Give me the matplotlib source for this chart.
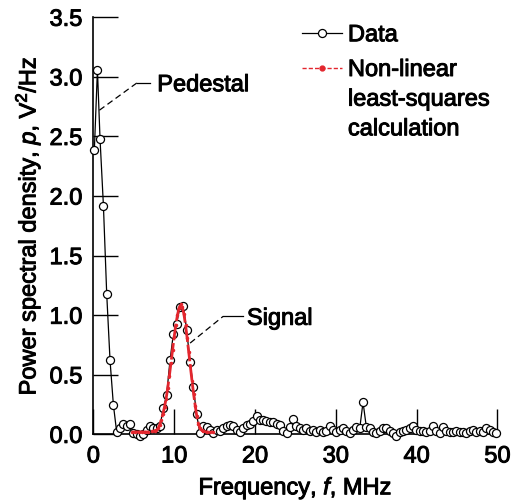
import matplotlib
matplotlib.use("Agg")
import matplotlib.pyplot as plt
import matplotlib.patheffects as pe
import numpy as np

plt.rcParams['font.family'] = ['Liberation Sans', 'DejaVu Sans']
plt.rcParams['mathtext.fontset'] = 'custom'
plt.rcParams['mathtext.rm'] = 'Liberation Sans'
plt.rcParams['mathtext.it'] = 'Liberation Sans:italic'

# measured spectrum
freq = [0.12, 0.50, 0.82, 1.24, 1.65, 2.06, 2.47, 2.88, 3.30, 3.71,
        4.12, 4.53, 4.94, 5.36, 5.77, 6.18, 6.59, 7.00, 7.42, 7.83,
        8.24, 8.65, 9.06, 9.48, 9.89, 10.30, 10.71, 11.12, 11.54, 11.95,
        12.36, 12.77, 13.18, 13.60, 14.01, 14.42, 14.83, 15.24, 15.66, 16.07,
        16.48, 16.89, 17.30, 17.72, 18.13, 18.54, 18.95, 19.36, 19.78, 20.19,
        20.60, 21.01, 21.42, 21.84, 22.25, 22.66, 23.07, 23.48, 23.90, 24.31,
        24.72, 25.13, 25.54, 25.96, 26.37, 26.78, 27.19, 27.60, 28.02, 28.43,
        28.84, 29.25, 29.66, 30.08, 30.49, 30.90, 31.31, 31.72, 32.14, 32.55,
        32.96, 33.37, 33.78, 34.20, 34.61, 35.02, 35.43, 35.84, 36.26, 36.67,
        37.08, 37.49, 37.90, 38.32, 38.73, 39.14, 39.55, 39.96, 40.38, 40.79,
        41.20, 41.61, 42.02, 42.44, 42.85, 43.26, 43.67, 44.08, 44.50, 44.91,
        45.32, 45.73, 46.14, 46.56, 46.97, 47.38, 47.79, 48.20, 48.62, 49.03,
        49.44, 49.85]
psd = [2.39, 3.06, 2.48, 1.92, 1.175, 0.62, 0.25, 0.02, 0.05, 0.09,
       0.07, 0.09, 0.01, 0.00, -0.01, 0.00, 0.04, 0.07, 0.05, 0.05,
       0.07, 0.22, 0.33, 0.62, 0.84, 0.93, 1.07, 1.08, 0.88, 0.61,
       0.40, 0.17, 0.01, 0.07, 0.06, 0.04, 0.01, 0.04, 0.03, 0.05,
       0.07, 0.08, 0.07, 0.04, 0.02, 0.05, 0.08, 0.09, 0.11, 0.15,
       0.12, 0.12, 0.11, 0.10, 0.10, 0.09, 0.08, 0.03, 0.01, 0.06,
       0.13, 0.07, 0.05, 0.04, 0.05, 0.03, 0.04, 0.02, 0.04, 0.02,
       0.03, 0.07, 0.04, 0.02, 0.04, 0.05, 0.03, 0.01, 0.04, 0.06,
       0.05, 0.27, 0.06, 0.05, 0.02, 0.01, 0.03, 0.05, 0.05, 0.03,
       0.01, -0.01, 0.02, 0.03, 0.04, 0.05, 0.07, 0.04, 0.03, 0.03,
       0.02, 0.03, 0.07, 0.03, 0.01, 0.06, 0.03, 0.02, 0.02, 0.03,
       0.02, 0.02, 0.01, 0.03, 0.04, 0.02, 0.03, 0.02, 0.05, 0.04,
       0.02, 0.01]

# least-squares fit of the signal peak
fit_freq = [4.8, 5.2, 5.6, 6.0, 6.4, 6.8, 7.2, 7.6, 7.8, 8.0,
            8.2, 8.4, 8.6, 8.8, 9.0, 9.2, 9.4, 9.6, 9.8, 10.0,
            10.2, 10.4, 10.6, 10.8, 11.0, 11.2, 11.4, 11.6, 11.8, 12.0,
            12.2, 12.4, 12.6, 12.8, 13.0, 13.2, 13.4, 13.6, 14.0, 14.4,
            14.8]
fit_psd = [0.02, 0.02, 0.02, 0.02, 0.02, 0.02, 0.025, 0.03, 0.035, 0.05,
           0.08, 0.12, 0.17, 0.23, 0.30, 0.39, 0.49, 0.60, 0.71, 0.82,
           0.92, 1.00, 1.06, 1.09, 1.07, 1.01, 0.92, 0.81, 0.69, 0.57,
           0.45, 0.34, 0.24, 0.15, 0.09, 0.05, 0.035, 0.025, 0.02, 0.02,
           0.02]

xticks = [0, 10, 20, 30, 40, 50]
yticks = [0.0, 0.5, 1.0, 1.5, 2.0, 2.5, 3.0, 3.5]

FS = 17
heavy = [pe.withStroke(linewidth=0.7, foreground='black')]
red = '#e3262e'

fig = plt.figure(figsize=(5.16, 5.01), dpi=100)
ax = fig.add_axes([0.181, 0.133, 0.783, 0.8325])

data_style = dict(color='black', lw=0.9, marker='o', ms=5.8, mfc='white',
                  mec='black', mew=0.9)
fit_style = dict(color=red, lw=2.0, ls=(0, (6, 1)), marker='.', ms=3)

ax.plot(freq, psd, zorder=3, clip_on=False, **data_style)
ax.plot(fit_freq, fit_psd, zorder=4, **fit_style)

ax.set_xlim(0, 50)
ax.set_ylim(0, 3.5)
ax.set_xticks(xticks)
ax.set_yticks(yticks)
ax.set_yticklabels([f'{v:.1f}' for v in yticks])
ax.tick_params(direction='in', length=18, width=1.0, labelsize=FS, color='black')
ax.tick_params(axis='y', pad=8)
ax.tick_params(axis='x', pad=8)
for side in ['top', 'right']:
    ax.spines[side].set_visible(False)
for side in ['left', 'bottom']:
    ax.spines[side].set_linewidth(1.2)

ax.set_xlabel(r'Frequency, $\mathit{f}$, MHz', fontsize=FS, labelpad=5)
ax.set_ylabel(r'Power spectral density, $\mathit{p}$, V$^{2}$/Hz', fontsize=FS, labelpad=5)

# callouts
ax.plot([0.74, 5.4], [2.72, 2.95], color='black', lw=0.9, ls=(0, (5, 3)))
ax.plot([5.4, 7.0], [2.95, 2.95], color='black', lw=0.9)
ax.text(7.9, 2.93, 'Pedestal', fontsize=FS, va='center', ha='left')
ax.plot([11.97, 16.05], [0.766, 0.99], color='black', lw=0.9, ls=(0, (5, 3)))
ax.plot([16.05, 18.5], [0.99, 0.99], color='black', lw=0.9)
ax.text(19.0, 0.97, 'Signal', fontsize=FS, va='center', ha='left')

# key, drawn in axes fraction
tr = ax.transAxes
ax.plot([0.517, 0.616], [0.962, 0.962], transform=tr, clip_on=False,
        markevery=[], **data_style)
ax.plot([0.5665], [0.962], transform=tr, clip_on=False, ls='none',
        **{k: v for k, v in data_style.items() if k != 'lw'})
ax.plot([0.517, 0.616], [0.878, 0.878], transform=tr, clip_on=False, color=red,
        lw=1.0, ls=(0, (3, 1.5)))
ax.plot([0.5665], [0.878], transform=tr, clip_on=False, color=red, ls='none',
        marker='o', ms=3.5)
ax.text(0.630, 0.957, 'Data', transform=tr, fontsize=FS, va='center', ha='left')
ax.text(0.630, 0.900, 'Non-linear\nleast-squares\ncalculation', transform=tr,
        fontsize=FS, va='top', ha='left', linespacing=1.45)

for t in ax.texts + ax.get_xticklabels() + ax.get_yticklabels() + \
        [ax.xaxis.label, ax.yaxis.label]:
    t.set_path_effects(heavy)

fig.savefig('out.png', dpi=100)
